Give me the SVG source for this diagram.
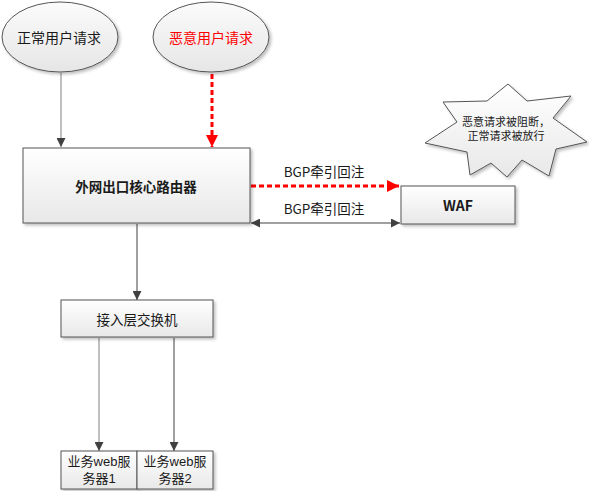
<svg xmlns="http://www.w3.org/2000/svg" width="589" height="491" viewBox="0 0 589 491">
<defs>
<linearGradient id="gBox" x1="0" y1="0" x2="0" y2="1">
<stop offset="0" stop-color="#ffffff"/>
<stop offset="1" stop-color="#e8e8e8"/>
</linearGradient>
<linearGradient id="gEll" x1="0" y1="0" x2="0" y2="1">
<stop offset="0" stop-color="#fbfbfb"/>
<stop offset="1" stop-color="#e6e6e6"/>
</linearGradient>
<filter id="sh" x="-10%" y="-10%" width="130%" height="130%">
<feDropShadow dx="2" dy="2" stdDeviation="1.5" flood-color="#000" flood-opacity="0.25"/>
</filter>
<marker id="aDark" viewBox="0 0 10 10" refX="10" refY="5" markerWidth="9" markerHeight="9" markerUnits="userSpaceOnUse" orient="auto-start-reverse">
<path d="M0,0 L10,5 L0,10 Z" fill="#404040"/>
</marker>
<marker id="aRed" viewBox="0 0 10 10" refX="10" refY="5" markerWidth="12" markerHeight="12" markerUnits="userSpaceOnUse" orient="auto">
<path d="M0,0 L10,5 L0,10 Z" fill="#ff0000"/>
</marker>
</defs>
<style>
.box{fill:url(#gBox);stroke:#555;stroke-width:1;filter:url(#sh)}
.ell{fill:url(#gEll);stroke:#555;stroke-width:1;filter:url(#sh)}
.t{font-family:"Noto Sans CJK SC","Liberation Sans",sans-serif;font-size:13.5px;fill:#1a1a1a;text-anchor:middle;dominant-baseline:central}
.m{font-family:"Liberation Sans","Noto Sans CJK SC",sans-serif}
.b{font-weight:bold}
.e{font-size:14px}
.s{font-size:11px}
.sv{font-size:13px}
.ln{fill:none;stroke:#404040;stroke-width:1;marker-end:url(#aDark)}
.lg{stroke:#808080}
.red{fill:none;stroke:#ff0000;stroke-width:3;stroke-dasharray:5 3;marker-end:url(#aRed)}
</style>
<rect width="589" height="491" fill="#ffffff"/>

<g id="connectors">
<line class="ln lg" x1="61" y1="73" x2="61" y2="147"/>
<line class="red" x1="212" y1="74" x2="212" y2="147"/>
<line class="red" x1="251" y1="186" x2="399" y2="186"/>
<line class="ln" x1="251" y1="223" x2="400" y2="223" marker-start="url(#aDark)"/>
<line class="ln" x1="137" y1="224" x2="137" y2="300"/>
<line class="ln lg" x1="99" y1="338" x2="99" y2="451"/>
<line class="ln" x1="174" y1="338" x2="174" y2="451"/>
<text class="t" x="324" y="171">BGP牵引回注</text>
<text class="t" x="324" y="208">BGP牵引回注</text>
</g>

<g id="normal-user">
<ellipse class="ell" cx="60" cy="37" rx="58" ry="35"/>
<text class="t e" x="59" y="37">正常用户请求</text>
</g>

<g id="malicious-user">
<ellipse class="ell" cx="211" cy="37" rx="58" ry="35"/>
<text class="t e" x="211" y="37" style="fill:#ff0000">恶意用户请求</text>
</g>

<g id="core-router">
<rect class="box" x="23" y="148" width="227" height="75"/>
<text class="t b" x="136" y="186">外网出口核心路由器</text>
</g>

<g id="waf">
<rect class="box" x="401" y="186" width="114" height="38"/>
<text class="t b" x="458" y="205" style="font-size:14px">WAF</text>
</g>

<g id="note">
<polygon class="box" points="508,84 527,101 571,96 553,118 587,142 556,149 549,176 522,160 507,177 491,163 470,175 467,152 425,143 457,122 443,102 487,101" style="stroke-linejoin:miter"/>
<text class="t m s" x="506" y="122">恶意请求被阻断，</text>
<text class="t m s" x="506" y="136">正常请求被放行</text>
</g>

<g id="access-switch">
<rect class="box" x="61" y="300" width="152" height="37"/>
<text class="t" x="137" y="319">接入层交换机</text>
</g>

<g id="web-server-1">
<rect class="box" x="61" y="451" width="76" height="38"/>
<text class="t m sv" x="99" y="461">业务web服</text>
<text class="t m sv" x="99" y="478">务器1</text>
</g>

<g id="web-server-2">
<rect class="box" x="137" y="451" width="76" height="38"/>
<text class="t m sv" x="175" y="461">业务web服</text>
<text class="t m sv" x="175" y="478">务器2</text>
</g>
</svg>
